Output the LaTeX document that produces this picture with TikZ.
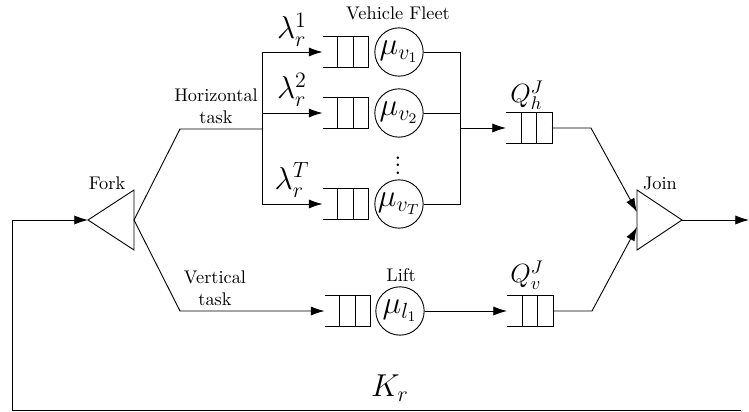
\documentclass[tikz,border=0pt]{standalone}
\usetikzlibrary{arrows.meta,calc}
\newcommand{\drawqueue}[1]{%
  \draw (#1.north west) -- (#1.north east) -- (#1.south east) -- (#1.south west);
  \draw ($(#1.north west)!1/3!(#1.north east)$) -- ($(#1.south west)!1/3!(#1.south east)$);
  \draw ($(#1.north west)!2/3!(#1.north east)$) -- ($(#1.south west)!2/3!(#1.south east)$);}
\begin{document}
\begin{tikzpicture}[x=0.546pt,y=-0.546pt, line width=0.5pt,
  arr/.style={-{Latex[length=7.5pt,width=5pt]}},
  qbox/.style={rectangle, minimum width=24.6pt, minimum height=16.6pt, inner sep=0pt},
  server/.style={circle, draw, minimum size=26.4pt, inner sep=0pt, font=\fontsize{17}{19}\selectfont},
  lbl/.style={font=\normalsize, align=center, inner sep=0pt},
  rate/.style={font=\LARGE, inner sep=0pt}]
\useasboundingbox (0,0) rectangle (749,412);

% vehicle fleet rows
\node[qbox] (q1) at (345.5,52) {}; \drawqueue{q1}
\node[qbox] (q2) at (345.5,113) {}; \drawqueue{q2}
\node[qbox] (qT) at (345.5,204) {}; \drawqueue{qT}
\node[server] (s1) at (399,52) {\makebox[0pt]{$\mu_{v_1}$}};
\node[server] (s2) at (399,113) {\makebox[0pt]{$\mu_{v_2}$}};
\node[server] (sT) at (399,204) {\makebox[0pt]{$\mu_{v_T}$}};
\node[inner sep=0pt, font=\Large] (dots) at (398,160) {$\vdots$};

% left bus
\coordinate (b1) at (262,52);
\coordinate (b2) at (262,113);
\coordinate (bT) at (262,204);
\coordinate (bm) at (262,129);
\draw (b1) -- (bT);
\draw[arr] (b1) -- (q1.west);
\draw[arr] (b2) -- (q2.west);
\draw[arr] (bT) -- (qT.west);

% right bus
\coordinate (r1) at (460,52);
\coordinate (rT) at (460,204);
\coordinate (rm) at (460,128);
\draw (s1.east) -- (r1) -- (rT) -- (sT.east);
\draw (s2.east) -- (s2.east -| r1);

% horizontal join queue
\node[qbox] (qh) at (529,128) {}; \drawqueue{qh}
\draw[arr] (rm) -- (qh.west);
\coordinate (hb) at (591,128);
\coordinate (ja) at (637,212);
\draw[arr] (qh.east) -- (hb) -- (ja);

% fork
\coordinate (fkL) at (88,220);
\coordinate (fkR) at (134,220);
\draw (fkL) -- (134,190) -- (134,250) -- cycle;
\coordinate (ub) at (180,129);
\draw (fkR) -- (ub) -- (bm);

% lift branch
\node[qbox] (ql) at (347.5,311) {}; \drawqueue{ql}
\node[server] (sl) at (400,311) {\makebox[0pt]{$\mu_{l_1}$}};
\coordinate (lb) at (180,311);
\draw[arr] (fkR) -- (lb) -- (ql.west);
\node[qbox] (qv) at (530,311) {}; \drawqueue{qv}
\draw[arr] (sl.east) -- (qv.west);
\coordinate (vb) at (592,311);
\coordinate (jb) at (637,227);
\draw[arr] (qv.east) -- (vb) -- (jb);

% join
\coordinate (jo) at (682,220);
\draw (637,190) -- (jo) -- (637,250) -- cycle;
\coordinate (out) at (749,220);
\draw[arr] (jo) -- (out);

% feedback
\coordinate (fbR) at (741,410);
\coordinate (fbL) at (12,410);
\coordinate (fbU) at (12,220);
\draw[arr] (fbR) -- (fbL) -- (fbU) -- (fkL);

% labels
\node[lbl] (lfork) at (107,183) {Fork};
\node[lbl] (ljoin) at (660,183) {Join};
\node[lbl] (lhor) at (216,106) {Horizontal\\task};
\node[lbl] (lver) at (215,288) {Vertical\\task};
\node[lbl] (lfleet) at (398,13) {Vehicle Fleet};
\node[lbl] (llift) at (401,275) {Lift};
\node[rate] (l1) at (292,30) {$\lambda_r^1$};
\node[rate] (l2) at (292,90) {$\lambda_r^2$};
\node[rate] (lT) at (292,180) {$\lambda_r^T$};
\node[font=\Large, inner sep=0pt] (lqh) at (527,95) {$Q_h^J$};
\node[font=\Large, inner sep=0pt] (lqv) at (527,275) {$Q_v^J$};
\node[font=\LARGE, inner sep=0pt] (lk) at (390,388) {$K_r$};
\end{tikzpicture}
\end{document}
